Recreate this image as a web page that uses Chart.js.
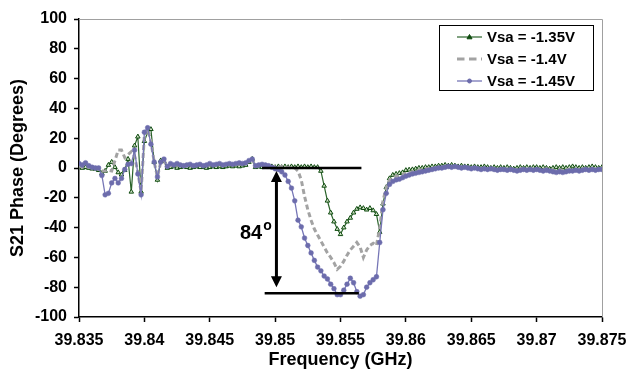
<!DOCTYPE html>
<html><head><meta charset="utf-8">
<script src="https://cdn.jsdelivr.net/npm/chart.js@4"></script>
<style>html,body{margin:0;padding:0;background:#fff}#wrap{width:642px;height:372px}</style>
</head><body><div id="wrap"><canvas id="c" width="642" height="372"></canvas></div>
<script>
// Frequency sweep grid (GHz)
const freqStart = 39.835;
const freqStep = 0.00025;
const nPoints = 161;

// S21 phase (degrees), Vsa = -1.35 V
const phase135 = [
 1, 0, 0.5, 0, -0.5, -0.5, -1.5, -3.5, -2, 2,
 4, 0.5, -3, -4.5, -1.5, 6, -16, 15, 21, -16,
 18, 24, 26, 4, -8, 5, 4.5, 0, 0.5, 1,
 0, 0.5, 1, 0.5, 0, 0.5, 1, 0.5, 0.5, 0,
 0.5, 1, 0.5, 1, 0.5, 1, 1.5, 1, 1.5, 1,
 1.5, 2, 4, 6, 0.5, 1, 0.5, 1, 0.5, 1,
 0.5, 1, 0.5, 1, 0.5, 1, 0.5, 1, 0.5, 1,
 0.5, 1, 0.5, 0.5, -2, -12, -22, -30, -36, -41,
 -44.5, -40, -36, -33.5, -30, -27.5, -26.5, -27, -28, -27,
 -28.5, -31, -43, -24, -13, -7, -4.7, -4, -3.5, -3,
 -1.5, -1.2, -1, -0.5, 0, 0, 0.5, 0.5, 1, 1,
 1.5, 1.5, 2, 1.5, 2, 1.5, 1, 1.5, 1, 1,
 0.5, 1, 0.5, 0.5, 1, 0.5, 0, 0.5, 0, 0.5,
 0, 0.5, 0, -0.5, 0, 0.5, 0, 0.5, 0, 0.5,
 0.5, 0, 0.5, 0, -0.5, 0, 0.5, 0, 0.5, 0,
 0.5, 1, 0.5, 0, 0.5, 0, 0.5, 1, 0.5, 0, 0.5
];
// S21 phase (degrees), Vsa = -1.4 V
const phase140 = [
 1.5, 0.5, 1, 0.5, 0, 0, -1, -2, -2, -1.5,
 -2, 5, 12, 12, 7, 9, 11, 8, -3, -16,
 22, 26, 18, 4, -6, 4, 5, 1, 1.5, 1.5,
 2, 1.5, 1, 1.5, 2, 1, 1.5, 2, 1, 1.5,
 2, 1.5, 2, 2.5, 1.5, 2, 2.5, 2, 2.5, 2.5,
 2.5, 3, 5, 6, 1, 1.5, 1.5, 1.5, 1, 1,
 1, 0.5, 1, 0.5, 0.5, 0, 0, -2, -8, -19,
 -28, -35, -41, -45, -49, -53, -57, -60, -63.5, -68,
 -66, -62.5, -58.5, -55, -52.5, -50, -53, -60, -55, -52,
 -50.5, -52, -40, -22, -13, -8, -6.5, -5.5, -5, -4.5,
 -3.5, -3, -2.5, -2, -1.5, -1, -0.5, -0.5, 0, 0,
 0.5, 0.5, 1, 0.5, 1, 0.5, 0.5, 0.5, 0.5, 0,
 0, 0.5, 0, -0.5, 0, -0.5, -0.5, -0.5, -1, -0.5,
 -0.5, -1, -0.5, -1, -1, -0.5, -0.5, -1, -0.5, -1,
 -0.5, -1, -1, -0.5, -1, -1.5, -1.5, -1, -1.5, -1,
 -1, -0.5, -1, -1, -0.5, -0.5, -1, -0.5, -0.5, -0.5, -0.5
];
// S21 phase (degrees), Vsa = -1.45 V
const phase145 = [
 3, 2, 3.5, 1.5, 0.5, 0, 0, -5, -18, -17,
 -10, -7, -10, -7, -1, 2.5, 3, 12, -4, -18,
 24, 27, 16, 4, -6, 4, 6, 1, 3, 2,
 3, 2, 1.5, 2, 2.5, 1.5, 2, 2.5, 1.5, 2,
 3, 2, 2.5, 3, 2, 2.5, 3, 2.5, 3, 3.5,
 3, 3.5, 5, 6, 1.5, 2, 2.5, 2, 1.5, 0.5,
 -0.5, -1, -2.5, -4.7, -9, -13.5, -22, -35, -39.5, -47,
 -52, -57, -62, -66.5, -69, -72.5, -74.5, -78, -81, -85,
 -85, -82, -78, -74, -77, -83, -86, -85, -80, -77,
 -75, -73, -50, -28, -17, -11, -9, -8, -7.5, -6.5,
 -5.5, -4.7, -4, -3.5, -3, -2.5, -2, -1.5, -1, -0.5,
 0, 0, 0.5, 1, 0.5, 1, 0.5, 0, 0.5, 0,
 -0.5, 0, -0.5, -1, -0.5, -1, -0.5, -1, -1.5, -1,
 -1, -1.5, -1, -1.5, -2, -1.5, -1, -1.5, -1, -1.5,
 -1, -1.5, -2, -1.5, -2, -2.5, -3, -2.5, -3, -2.5,
 -2, -2, -1.5, -2, -1.5, -1, -1.5, -1, -1.5, -1, -1
];

const seriesLabels = ['Vsa = -1.35V', 'Vsa = -1.4V', 'Vsa = -1.45V'];
const xTickValues = [39.835, 39.84, 39.845, 39.85, 39.855, 39.86, 39.865, 39.87, 39.875];
const yTickValues = [-100, -80, -60, -40, -20, 0, 20, 40, 60, 80, 100];
const xTitle = 'Frequency (GHz)';
const yTitle = 'S21 Phase (Degrees)';
// Annotation: phase swing marker
const swingLevels = [0, -84];
const swingFreqs = { topFrom: 39.8490, topTo: 39.8566, botFrom: 39.8492, botTo: 39.8564, arrow: 39.8501 };
const swingText = '84';
const swingSup = 'o';

const freqs = [];
for (let i = 0; i < nPoints; i++) freqs.push(+(freqStart + freqStep * i).toFixed(5));
const toXY = arr => arr.map((v, i) => ({ x: freqs[i], y: v }));

const colors = {
  green: '#2a632a', greenPt: '#0d4a0d', greenFill: '#cfe0c6',
  gray: '#a3a3a3',
  blue: '#7676b6', bluePt: '#6c6cac'
};
const FONT = '"Liberation Sans", Arial, sans-serif';

const frame = {
  id: 'frame',
  afterDraw(chart) {
    const { ctx, chartArea: a } = chart;
    ctx.save();
    ctx.strokeStyle = '#a0a0a0';
    ctx.lineWidth = 1;
    ctx.beginPath();
    ctx.moveTo(a.left, a.top + 0.5);
    ctx.lineTo(a.right + 0.5, a.top + 0.5);
    ctx.lineTo(a.right + 0.5, a.bottom);
    ctx.stroke();
    ctx.restore();
  }
};

const annot = {
  id: 'annot',
  afterDatasetsDraw(chart) {
    const { ctx, scales: { x, y } } = chart;
    ctx.save();
    ctx.strokeStyle = '#000';
    ctx.fillStyle = '#000';
    ctx.lineWidth = 2.5;
    const yTop = y.getPixelForValue(swingLevels[0]);
    const yBot = y.getPixelForValue(swingLevels[1]);
    ctx.beginPath();
    ctx.moveTo(x.getPixelForValue(swingFreqs.topFrom), yTop);
    ctx.lineTo(x.getPixelForValue(swingFreqs.topTo), yTop);
    ctx.moveTo(x.getPixelForValue(swingFreqs.botFrom), yBot);
    ctx.lineTo(x.getPixelForValue(swingFreqs.botTo), yBot);
    ctx.stroke();
    const ax = x.getPixelForValue(swingFreqs.arrow);
    const t = yTop + 3, b = yBot - 6;
    ctx.lineWidth = 3;
    ctx.beginPath();
    ctx.moveTo(ax, t + 8);
    ctx.lineTo(ax, b - 8);
    ctx.stroke();
    ctx.beginPath();
    ctx.moveTo(ax, t); ctx.lineTo(ax - 5.5, t + 11); ctx.lineTo(ax + 5.5, t + 11); ctx.closePath();
    ctx.moveTo(ax, b); ctx.lineTo(ax - 5.5, b - 11); ctx.lineTo(ax + 5.5, b - 11); ctx.closePath();
    ctx.fill();
    ctx.font = 'bold 20px ' + FONT;
    ctx.textBaseline = 'alphabetic';
    ctx.textAlign = 'left';
    const ty = (yTop + yBot) / 2 + 8;
    ctx.fillText(swingText, 240, ty);
    const w = ctx.measureText(swingText).width;
    ctx.font = 'bold 14px ' + FONT;
    ctx.fillText(swingSup, 240 + w + 1, ty - 9);
    ctx.restore();
  }
};

const legendBox = {
  id: 'legendBox',
  afterDraw(chart) {
    const { ctx } = chart;
    const bx = 439.5, by = 25.5, bw = 154, bh = 65;
    ctx.save();
    ctx.fillStyle = '#fff';
    ctx.fillRect(bx, by, bw, bh);
    ctx.strokeStyle = '#000';
    ctx.lineWidth = 1;
    ctx.strokeRect(bx, by, bw, bh);
    const rows = [37, 59, 81];
    const ds = chart.data.datasets;
    rows.forEach((ry, k) => {
      const d = ds[k];
      ctx.save();
      ctx.strokeStyle = d.borderColor;
      ctx.lineWidth = d.borderWidth;
      if (d.borderDash) ctx.setLineDash(d.borderDash.map(v => v * 1.5));
      ctx.beginPath();
      ctx.moveTo(457, ry); ctx.lineTo(482, ry);
      ctx.stroke();
      ctx.restore();
      if (d.pointRadius > 0) {
        ctx.fillStyle = d.pointBorderColor;
        ctx.strokeStyle = d.pointBorderColor;
        ctx.lineWidth = 1;
        ctx.beginPath();
        if (d.pointStyle === 'triangle') {
          ctx.moveTo(469.5, ry - 2.5); ctx.lineTo(467, ry + 1.8); ctx.lineTo(472, ry + 1.8); ctx.closePath();
        } else {
          ctx.arc(469.5, ry, 2, 0, Math.PI * 2);
        }
        ctx.fill(); ctx.stroke();
      }
      ctx.fillStyle = '#000';
      ctx.font = 'bold 15px ' + FONT;
      ctx.textBaseline = 'middle';
      ctx.fillText(d.label, 487, ry + 1);
    });
    ctx.restore();
  }
};

new Chart(document.getElementById('c'), {
  type: 'line',
  data: {
    datasets: [
      { label: seriesLabels[0], data: toXY(phase135), order: 2,
        borderColor: colors.green, borderWidth: 1.2, pointStyle: 'triangle',
        pointRadius: 2.6, pointBackgroundColor: colors.greenFill, pointBorderColor: colors.greenPt, pointBorderWidth: 1 },
      { label: seriesLabels[1], data: toXY(phase140), order: 1,
        borderColor: colors.gray, borderWidth: 3, borderDash: [5, 3], pointRadius: 0 },
      { label: seriesLabels[2], data: toXY(phase145), order: 0,
        borderColor: colors.blue, borderWidth: 1.3, pointStyle: 'circle',
        pointRadius: 2.4, pointBackgroundColor: colors.bluePt, pointBorderColor: colors.bluePt, pointBorderWidth: 0.5 }
    ]
  },
  options: {
    responsive: false,
    animation: false,
    devicePixelRatio: 1,
    layout: { padding: { left: 0, top: 19, right: 40, bottom: 0 } },
    plugins: { legend: { display: false }, tooltip: { enabled: false } },
    elements: { line: { tension: 0 } },
    scales: {
      x: {
        type: 'linear', min: 39.835, max: 39.875,
        afterBuildTicks: s => { s.ticks = xTickValues.map(v => ({ value: v })); },
        afterFit: s => { s.height = 55; },
        ticks: { color: '#000', font: { family: FONT, size: 16, weight: 'bold' }, padding: 9,
          maxRotation: 0, autoSkip: false, callback: v => String(+v.toFixed(3)) },
        grid: { drawOnChartArea: false, drawTicks: true, tickLength: 5, tickColor: '#000', tickWidth: 1.5 },
        border: { display: true, color: '#000', width: 1.5 },
        title: { display: true, text: xTitle, color: '#000', font: { family: FONT, size: 18, weight: 'bold' }, padding: { top: 0, bottom: 1 } }
      },
      y: {
        type: 'linear', min: -100, max: 100,
        afterBuildTicks: s => { s.ticks = yTickValues.map(v => ({ value: v })); },
        afterFit: s => { s.width = 79; },
        ticks: { color: '#000', font: { family: FONT, size: 16, weight: 'bold' }, padding: 7, callback: v => String(v) },
        grid: { drawOnChartArea: false, drawTicks: true, tickLength: 5, tickColor: '#000', tickWidth: 1.5 },
        border: { display: true, color: '#000', width: 1.5 },
        title: { display: true, text: yTitle, color: '#000', font: { family: FONT, size: 18, weight: 'bold' }, padding: { top: 7, bottom: 0 } }
      }
    }
  },
  plugins: [frame, annot, legendBox]
});
</script>
</body></html>
